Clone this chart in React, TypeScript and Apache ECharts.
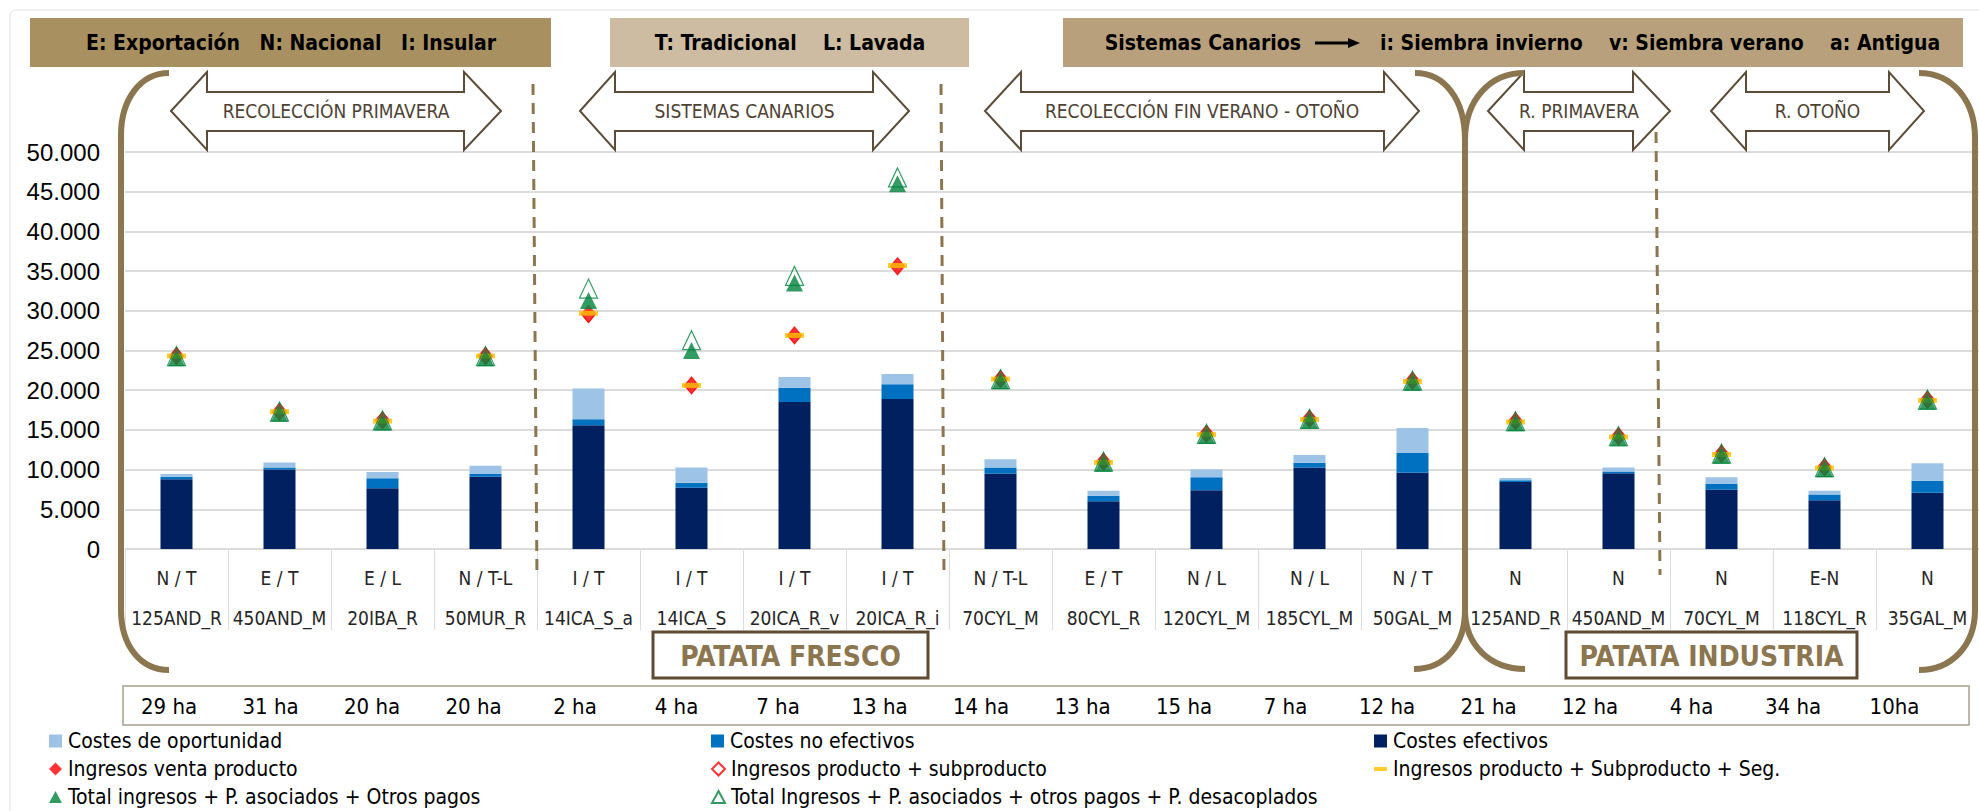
import React, { useEffect, useRef } from 'react';
import * as echarts from 'echarts';

// ---------- DATA ----------
const categories = ['125AND_R', '450AND_M', '20IBA_R', '50MUR_R', '14ICA_S_a', '14ICA_S', '20ICA_R_v', '20ICA_R_i', '70CYL_M', '80CYL_R', '120CYL_M', '185CYL_M', '50GAL_M', '125AND_R', '450AND_M', '70CYL_M', '118CYL_R', '35GAL_M'];
const markets = ['N / T', 'E / T', 'E / L', 'N / T-L', 'I / T', 'I / T', 'I / T', 'I / T', 'N / T-L', 'E / T', 'N / L', 'N / L', 'N / T', 'N', 'N', 'N', 'E-N', 'N'];
const hectares = ['29 ha', '31 ha', '20 ha', '20 ha', '2 ha', '4 ha', '7 ha', '13 ha', '14 ha', '13 ha', '15 ha', '7 ha', '12 ha', '21 ha', '12 ha', '4 ha', '34 ha', '10ha'];

const costesEfectivos = [8800, 10000, 7650, 9100, 15600, 7700, 18500, 18900, 9500, 6000, 7400, 10250, 9600, 8450, 9550, 7500, 6150, 7100];
const costesNoEfectivos = [300, 250, 1250, 350, 750, 650, 1800, 1850, 750, 700, 1650, 600, 2500, 200, 200, 700, 700, 1500];
const costesOportunidad = [350, 650, 800, 1050, 3850, 1900, 1350, 1300, 1050, 650, 950, 1000, 3150, 300, 500, 850, 500, 2200];

const ingresosVenta = [24300, 17300, 16200, 24300, 29500, 20600, 26900, 35600, 21400, 11000, 14500, 16400, 21200, 16100, 14200, 12000, 10300, 18800];
const ingresosSubproducto = [24300, 17300, 16200, 24300, 29600, 20600, 26900, 35600, 21400, 11000, 14500, 16400, 21200, 16100, 14200, 12000, 10300, 18800];
const ingresosSeg = [24300, 17300, 16100, 24300, 29700, 20600, 26900, 35700, 21400, 10900, 14400, 16300, 21100, 16000, 14100, 11900, 10200, 18700];
const totalIngresos = [24100, 17100, 16000, 24100, 31300, 25000, 33500, 46000, 21200, 10800, 14300, 16200, 21000, 15900, 14000, 11800, 10100, 18600];
const totalDesacoplados = [24300, 17300, 16200, 24300, 32800, 26300, 34400, 46800, 21400, 11000, 14500, 16400, 21200, 16100, 14200, 12000, 10300, 18800];

const yTicks = { min: 0, max: 50000, interval: 5000 };

const bannerTexts = ['E: Exportación   N: Nacional   I: Insular', 'T: Tradicional    L: Lavada', 'Sistemas Canarios', 'i: Siembra invierno    v: Siembra verano    a: Antigua'];
const arrowTexts = ['RECOLECCIÓN PRIMAVERA', 'SISTEMAS CANARIOS', 'RECOLECCIÓN FIN VERANO - OTOÑO', 'R. PRIMAVERA', 'R. OTOÑO'];
const groupTexts = ['PATATA FRESCO', 'PATATA INDUSTRIA'];

const S_OPO = 'Costes de oportunidad';
const S_NOE = 'Costes no efectivos';
const S_EFE = 'Costes efectivos';
const S_VEN = 'Ingresos venta producto';
const S_SUB = 'Ingresos producto + subproducto';
const S_SEG = 'Ingresos producto + Subproducto + Seg.';
const S_TOT = 'Total ingresos + P. asociados + Otros pagos';
const S_DES = 'Total Ingresos + P. asociados + otros pagos + P. desacoplados';

// ---------- STYLE ----------
const NARROW = "'Liberation Sans Narrow', 'Arial Narrow', 'DejaVu Sans Condensed', sans-serif";
const BROWN = '#8C7650';
const ARROW_STROKE = '#5C4B36';
const GREEN = '#00823B';

function fmt(v: number) {
  return String(v).replace(/\B(?=(\d{3})+(?!\d))/g, '.');
}

function txt(x: number, y: number, text: string, font: string, fill: string, align = 'center') {
  return {
    type: 'text', x, y, silent: true, z: 20,
    style: { text, font, fill, align, verticalAlign: 'middle', textAlign: align, textVerticalAlign: 'middle' },
  };
}

function buildGraphics() {
  const g: any[] = [];
  // chart frame
  g.push({ type: 'rect', silent: true, z: -5, shape: { x: 10, y: 10, width: 2000, height: 830, r: 6 }, style: { fill: 'none', stroke: '#E2E2E2', lineWidth: 1 } });

  // banners
  const banners = [
    { x: 30, w: 521, fill: '#A89061' },
    { x: 610, w: 359, fill: '#CDBCA1' },
    { x: 1063, w: 900, fill: '#B8A07C' },
  ];
  banners.forEach((b) => {
    g.push({ type: 'rect', silent: true, z: 10, shape: { x: b.x, y: 18, width: b.w, height: 49 }, style: { fill: b.fill } });
  });
  const bfont = `bold 21px ${NARROW}`;
  g.push(txt(291, 43, bannerTexts[0], bfont, '#000'));
  g.push(txt(790, 43, bannerTexts[1], bfont, '#000'));
  g.push(txt(1301, 43, bannerTexts[2], bfont, '#000', 'right'));
  g.push({ type: 'line', silent: true, z: 20, shape: { x1: 1315, y1: 43, x2: 1350, y2: 43 }, style: { stroke: '#000', lineWidth: 3 } });
  g.push({ type: 'polygon', silent: true, z: 20, shape: { points: [[1348, 38], [1360, 43], [1348, 48]] }, style: { fill: '#000' } });
  g.push(txt(1380, 43, bannerTexts[3], bfont, '#000', 'left'));

  // double block arrows
  const arrows = [
    { lt: 171, lh: 207, rh: 464, rt: 501 },
    { lt: 580, lh: 615, rh: 873, rt: 909 },
    { lt: 985, lh: 1021, rh: 1384, rt: 1419 },
    { lt: 1488, lh: 1524, rh: 1633, rt: 1670 },
    { lt: 1711, lh: 1746, rh: 1889, rt: 1924 },
  ];
  arrows.forEach((a, i) => {
    const cy = 111, ht = 72, hb = 150, bt = 92, bb = 131;
    g.push({
      type: 'polygon', silent: true, z: 10,
      shape: { points: [[a.lt, cy], [a.lh, ht], [a.lh, bt], [a.rh, bt], [a.rh, ht], [a.rt, cy], [a.rh, hb], [a.rh, bb], [a.lh, bb], [a.lh, hb]] },
      style: { fill: '#fff', stroke: ARROW_STROKE, lineWidth: 2 },
    });
    g.push(txt((a.lt + a.rt) / 2, cy, arrowTexts[i], `19px ${NARROW}`, '#4D4233'));
  });

  // dashed separators
  const dashes = [
    [533, 84, 537, 578],
    [941, 84, 944, 578],
    [1656, 132, 1660, 575],
  ];
  dashes.forEach((d) => {
    g.push({ type: 'line', silent: true, z: 10, shape: { x1: d[0], y1: d[1], x2: d[2], y2: d[3] }, style: { stroke: BROWN, lineWidth: 3, lineDash: [11, 8] } });
  });

  // brackets
  const bw = 6;
  const bst = { stroke: BROWN, lineWidth: bw, fill: 'none', lineCap: 'butt' };
  const bz = (x1: number, y1: number, c1x: number, c1y: number, c2x: number, c2y: number, x2: number, y2: number) => ({
    type: 'bezierCurve', silent: true, z: 12,
    shape: { x1, y1, cpx1: c1x, cpy1: c1y, cpx2: c2x, cpy2: c2y, x2, y2 }, style: bst,
  });
  const ln = (x1: number, y1: number, x2: number, y2: number) => ({ type: 'line', silent: true, z: 12, shape: { x1, y1, x2, y2 }, style: bst });
  // left (
  g.push(bz(169, 73, 140, 73, 121, 100, 121, 135));
  g.push(ln(121, 135, 121, 610));
  g.push(bz(121, 610, 121, 645, 140, 670, 169, 670));
  // middle )(
  g.push(bz(1415, 73, 1445, 73, 1465, 100, 1465, 140));
  g.push(bz(1524, 73, 1490, 73, 1465, 100, 1465, 140));
  g.push(ln(1465, 138, 1465, 612));
  g.push(bz(1465, 610, 1465, 645, 1445, 669, 1414, 669));
  g.push(bz(1465, 610, 1465, 645, 1490, 669, 1525, 669));
  // right )
  g.push(bz(1919, 73, 1952, 73, 1975, 100, 1975, 138));
  g.push(ln(1975, 136, 1975, 612));
  g.push(bz(1975, 610, 1975, 645, 1952, 670, 1919, 670));

  // group boxes
  const boxes = [
    { x: 653, w: 275 },
    { x: 1566, w: 291 },
  ];
  boxes.forEach((b, i) => {
    g.push({ type: 'rect', silent: true, z: 10, shape: { x: b.x, y: 632, width: b.w, height: 46 }, style: { fill: '#fff', stroke: '#5E4B30', lineWidth: 3 } });
    g.push(txt(b.x + b.w / 2, 656, groupTexts[i], `bold 28px ${NARROW}`, BROWN));
  });

  // hectares row
  g.push({ type: 'rect', silent: true, z: 10, shape: { x: 123, y: 686, width: 1846, height: 39 }, style: { fill: 'none', stroke: '#A8A090', lineWidth: 1.5 } });
  hectares.forEach((h, i) => {
    g.push(txt(169 + i * 101.5, 706, h, `22px ${NARROW}`, '#000'));
  });
  return g;
}

function legendAt(name: string, left: number, cy: number, opts: any = {}) {
  const ih = opts.itemHeight ?? 13;
  return {
    left, top: cy - 11, padding: 0, orient: 'horizontal', selectedMode: false,
    itemWidth: opts.itemWidth ?? 13, itemHeight: ih, itemGap: 0,
    textStyle: { fontSize: 21, lineHeight: 22, fontFamily: NARROW, color: '#000', padding: [0, 0, 0, 1] },
    data: [opts.icon ? { name, icon: opts.icon } : { name }],
  };
}

export default function App() {
  const ref = useRef<HTMLDivElement>(null);
  useEffect(() => {
    if (!ref.current) return;
    const chart = echarts.init(ref.current, undefined, { renderer: 'svg' });
    const option: any = {
      animation: false,
      backgroundColor: '#fff',
      grid: { left: 125, right: 0, top: 152, bottom: 262, containLabel: false },
      xAxis: {
        type: 'category',
        data: categories,
        axisLine: { lineStyle: { color: '#D9D9D9', width: 1 } },
        axisTick: { show: true, length: 81, interval: 0, lineStyle: { color: '#DCDCDC', width: 1 } },
        axisLabel: {
          interval: 0, margin: 9, fontSize: 19, lineHeight: 40, fontFamily: NARROW, color: '#262626',
          formatter: (v: string, i: number) => `${markets[i]}\n${v}`,
        },
        splitLine: { show: false },
      },
      yAxis: {
        type: 'value', min: yTicks.min, max: yTicks.max, interval: yTicks.interval,
        axisLine: { show: false }, axisTick: { show: false },
        axisLabel: { fontSize: 24, fontFamily: "'Liberation Sans', Arial, sans-serif", color: '#000', margin: 25, formatter: (v: number) => fmt(v) },
        splitLine: { lineStyle: { color: '#D0D0D0', width: 1.5 } },
      },
      legend: [
        legendAt(S_OPO, 49, 741, { icon: 'rect' }),
        legendAt(S_NOE, 711, 741, { icon: 'rect' }),
        legendAt(S_EFE, 1374, 741, { icon: 'rect' }),
        legendAt(S_VEN, 49, 769, {}),
        legendAt(S_SUB, 711, 769, {}),
        legendAt(S_SEG, 1374, 769, { icon: 'rect', itemHeight: 4 }),
        legendAt(S_TOT, 49, 797, { itemHeight: 12 }),
        legendAt(S_DES, 711, 797, { itemHeight: 12 }),
      ],
      graphic: { elements: buildGraphics() },
      series: [
        { name: S_EFE, type: 'bar', stack: 'costes', barWidth: 32, data: costesEfectivos, itemStyle: { color: '#002060' } },
        { name: S_NOE, type: 'bar', stack: 'costes', barWidth: 32, data: costesNoEfectivos, itemStyle: { color: '#0070C0' } },
        { name: S_OPO, type: 'bar', stack: 'costes', barWidth: 32, data: costesOportunidad, itemStyle: { color: '#9DC3E6' } },
        { name: S_VEN, type: 'scatter', symbol: 'diamond', symbolSize: [14, 17], data: ingresosVenta, itemStyle: { color: '#FF0000' }, z: 3 },
        { name: S_SUB, type: 'scatter', symbol: 'diamond', symbolSize: [14, 17], data: ingresosSubproducto, itemStyle: { color: 'rgba(255,255,255,0)', borderColor: '#FF0000', borderWidth: 1.2 }, z: 4 },
        { name: S_SEG, type: 'scatter', symbol: 'rect', symbolSize: [19, 5], data: ingresosSeg, itemStyle: { color: '#FFC000' }, z: 5 },
        { name: S_TOT, type: 'scatter', symbol: 'triangle', symbolSize: [17, 17], data: totalIngresos, itemStyle: { color: GREEN }, z: 6 },
        { name: S_DES, type: 'scatter', symbol: 'triangle', symbolSize: [18, 19], data: totalDesacoplados, itemStyle: { color: 'rgba(255,255,255,0)', borderColor: GREEN, borderWidth: 1.2 }, z: 7 },
      ],
    };
    chart.setOption(option);
    return () => chart.dispose();
  }, []);
  return <div ref={ref} style={{ position: 'absolute', left: 0, top: 0, width: 1979, height: 811, background: '#fff' }} />;
}
